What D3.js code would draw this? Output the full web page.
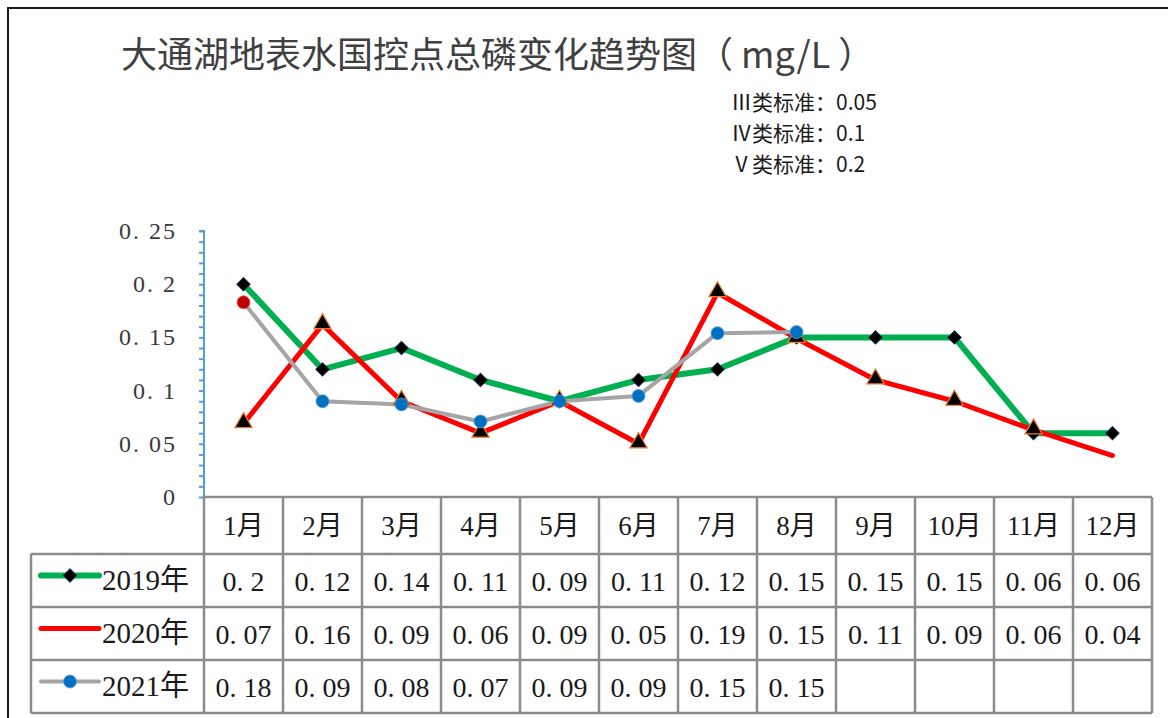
<!DOCTYPE html>
<html>
<head>
<meta charset="utf-8">
<script src="https://cdn.jsdelivr.net/npm/d3@7"></script>
<style>
  body { margin: 0; background: #fff; }
  svg { display: block; }
</style>
</head>
<body>
<svg width="1168" height="718"></svg>
<script>
// data
var months = ["1月", "2月", "3月", "4月", "5月", "6月", "7月", "8月", "9月", "10月", "11月", "12月"];
var years = ["2019年", "2020年", "2021年"];
var v2019 = [0.2, 0.12, 0.14, 0.11, 0.09, 0.11, 0.12, 0.15, 0.15, 0.15, 0.06, 0.06];
var v2020 = [0.069, 0.162, 0.09, 0.06, 0.09, 0.05, 0.192, 0.149, 0.11, 0.09, 0.063, 0.039];
var v2021 = [0.183, 0.09, 0.087, 0.071, 0.09, 0.095, 0.154, 0.155];
// values as printed in the data table
var t2019 = ["0.2", "0.12", "0.14", "0.11", "0.09", "0.11", "0.12", "0.15", "0.15", "0.15", "0.06", "0.06"];
var t2020 = ["0.07", "0.16", "0.09", "0.06", "0.09", "0.05", "0.19", "0.15", "0.11", "0.09", "0.06", "0.04"];
var t2021 = ["0.18", "0.09", "0.08", "0.07", "0.09", "0.09", "0.15", "0.15"];
var yTicks = [0, 0.05, 0.1, 0.15, 0.2, 0.25];
var standards = ["Ⅲ类标准：0.05", "Ⅳ类标准：0.1", "Ⅴ类标准：0.2"];

var series = [
    {name: years[0], values: v2019, labels: t2019, color: "#00b050", width: 6, marker: "diamond"},
    {name: years[1], values: v2020, labels: t2020, color: "#ff0000", width: 5, marker: "triangle"},
    {name: years[2], values: v2021, labels: t2021, color: "#a5a5a5", width: 4, marker: "circle"}
];

var svg = d3.select("svg");
var serif = "'Liberation Serif', 'Noto Sans CJK SC', serif";
var cjk = "'Noto Sans CJK SC', sans-serif";

// outer frame
svg.append("rect")
    .attr("x", 8).attr("y", 8)
    .attr("width", 1170).attr("height", 720)
    .attr("fill", "none")
    .attr("stroke", "#1a1a1a")
    .attr("stroke-width", 2);

svg.append("text")
    .attr("x", 121).attr("y", 68)
    .attr("font-family", cjk)
    .attr("font-size", 36)
    .attr("fill", "#404040")
    .text("大通湖地表水国控点总磷变化趋势图（ mg/L ）");

svg.selectAll(".std")
    .data(standards)
    .enter().append("text")
    .attr("class", "std")
    .attr("x", 731)
    .attr("y", function(d, i) { return 110 + i * 31; })
    .attr("font-family", cjk)
    .attr("font-size", 21)
    .attr("fill", "#1a1a1a")
    .text(function(d) { return d; });

var left = 204, right = 1152;
var x = d3.scaleBand().domain(months).range([left, right]);
var y = d3.scaleLinear().domain([0, 0.25]).range([497, 231]);

// y axis (blue with minor ticks)
var yAxis = d3.axisLeft(y)
    .tickValues(d3.range(0, 0.2501, 0.01))
    .tickSize(5)
    .tickFormat("");
var ya = svg.append("g")
    .attr("transform", "translate(" + left + ",0)")
    .call(yAxis);
ya.selectAll("path, line").attr("stroke", "#5b9bd5").attr("stroke-width", 2);
ya.select("path").attr("d", "M-5," + y(0.25) + "H0V" + y(0));

svg.selectAll(".ylab")
    .data(yTicks)
    .enter().append("text")
    .attr("class", "ylab")
    .attr("x", 177)
    .attr("y", function(d) { return y(d) + 8; })
    .attr("text-anchor", "end")
    .attr("font-family", serif)
    .attr("font-size", 24)
    .attr("letter-spacing", 2)
    .attr("fill", "#3a3a3a")
    .text(function(d) { return d === 0 ? "0" : String(d).replace(".", ". "); });

// table
var rowTop = [497, 554, 607, 660, 713];
var tbl = svg.append("g");
var grid = "#8c8c8c";
tbl.append("line").attr("x1", left).attr("x2", right).attr("y1", 497).attr("y2", 497)
    .attr("stroke", grid).attr("stroke-width", 2.5);
rowTop.slice(1).forEach(function(ry) {
    tbl.append("line").attr("x1", 31).attr("x2", right).attr("y1", ry).attr("y2", ry)
        .attr("stroke", grid).attr("stroke-width", 2.5);
});
tbl.append("line").attr("x1", 31).attr("x2", 31).attr("y1", 554).attr("y2", 713)
    .attr("stroke", grid).attr("stroke-width", 2.5);
months.forEach(function(m) {
    tbl.append("line").attr("x1", x(m)).attr("x2", x(m)).attr("y1", 497).attr("y2", 713)
        .attr("stroke", grid).attr("stroke-width", 2.5);
});
tbl.append("line").attr("x1", right).attr("x2", right).attr("y1", 497).attr("y2", 713)
    .attr("stroke", grid).attr("stroke-width", 2.5);

tbl.selectAll(".mlab")
    .data(months)
    .enter().append("text")
    .attr("x", function(d) { return x(d) + x.bandwidth() / 2; })
    .attr("y", 535)
    .attr("text-anchor", "middle")
    .attr("font-family", serif)
    .attr("font-size", 27)
    .attr("fill", "#1a1a1a")
    .text(function(d) { return d; });

series.forEach(function(s, si) {
    var cy = (rowTop[si + 1] + rowTop[si + 2]) / 2;
    tbl.selectAll(".val" + si)
        .data(s.labels)
        .enter().append("text")
        .attr("x", function(d, i) { return x(months[i]) + x.bandwidth() / 2; })
        .attr("y", cy + 10)
        .attr("text-anchor", "middle")
        .attr("font-family", serif)
        .attr("font-size", 28)
        .attr("fill", "#1a1a1a")
        .text(function(d) { return d.replace(".", ". "); });
    // legend key
    tbl.append("line")
        .attr("x1", 41).attr("x2", 99).attr("y1", cy - 5).attr("y2", cy - 5)
        .attr("stroke", s.color).attr("stroke-width", s.width)
        .attr("stroke-linecap", "round");
    if (s.marker !== "triangle") drawMarker(tbl, s.marker, 70, cy - 5);
    tbl.append("text")
        .attr("x", 102).attr("y", cy + 9)
        .attr("font-family", serif)
        .attr("font-size", 29)
        .attr("fill", "#1a1a1a")
        .text(s.name);
});

function drawMarker(g, type, cx, cy) {
    if (type === "diamond") {
        g.append("path")
            .attr("d", d3.symbol().type(d3.symbolSquare).size(96)())
            .attr("transform", "translate(" + cx + "," + cy + ") rotate(45)")
            .attr("fill", "#000").attr("stroke", "#1f3864").attr("stroke-width", 0.8);
    } else if (type === "triangle") {
        g.append("path")
            .attr("d", d3.symbol().type(d3.symbolTriangle).size(130)())
            .attr("transform", "translate(" + cx + "," + (cy - 1) + ")")
            .attr("fill", "#000").attr("stroke", "#ed7d31").attr("stroke-width", 1.2);
    } else {
        g.append("circle")
            .attr("cx", cx).attr("cy", cy).attr("r", 6.5)
            .attr("fill", "#0070c0").attr("stroke", "#5b9bd5").attr("stroke-width", 0.8);
    }
}

// lines
var plot = svg.append("g");
var line = d3.line()
    .x(function(d, i) { return x(months[i]) + x.bandwidth() / 2; })
    .y(function(d) { return y(d); });

series.forEach(function(s) {
    plot.append("path")
        .datum(s.values)
        .attr("fill", "none")
        .attr("stroke", s.color)
        .attr("stroke-width", s.width)
        .attr("stroke-linejoin", "round")
        .attr("stroke-linecap", "round")
        .attr("d", line);
});
series.forEach(function(s, si) {
    s.values.forEach(function(v, i) {
        if (si === 1 && i === s.values.length - 1) return;
        var cx = x(months[i]) + x.bandwidth() / 2;
        if (si === 2 && i === 0) {
            plot.append("circle").attr("cx", cx).attr("cy", y(v)).attr("r", 6.5)
                .attr("fill", "#c00000").attr("stroke", "#e06666").attr("stroke-width", 0.8);
            return;
        }
        drawMarker(plot, s.marker, cx, y(v));
    });
});
</script>
</body>
</html>
